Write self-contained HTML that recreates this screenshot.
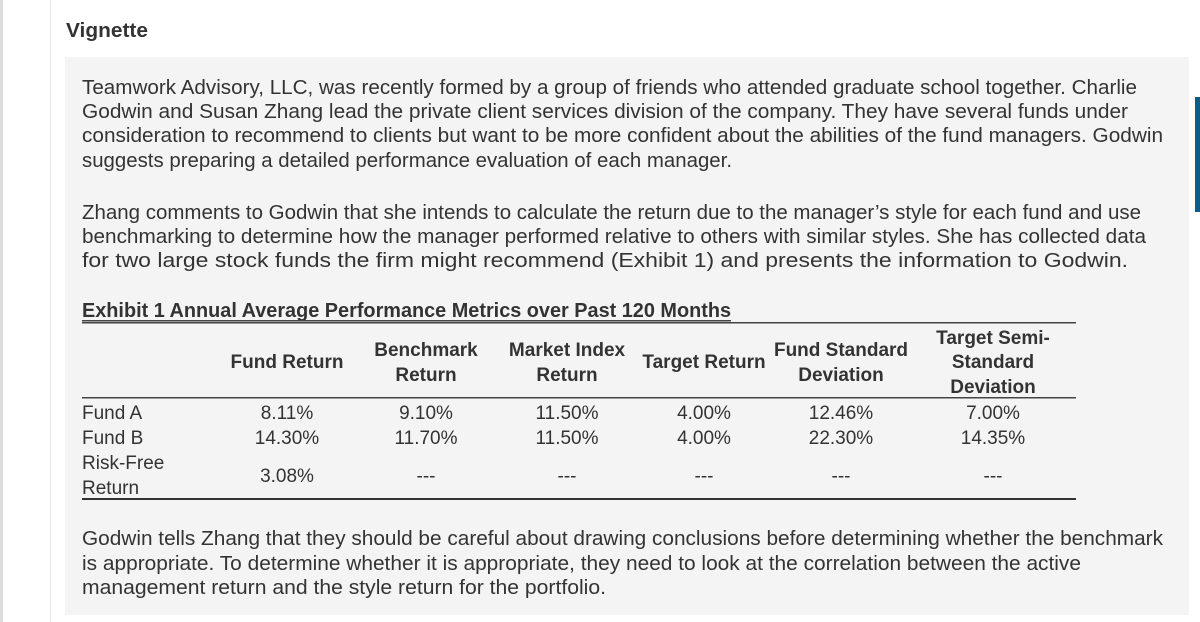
<!DOCTYPE html>
<html><head><meta charset="utf-8"><style>
html,body{margin:0;padding:0;background:#fff;}
svg{display:block;}
text{font-family:"Liberation Sans",sans-serif;fill:#333;}
.b{font-weight:bold;}
</style></head><body>
<svg width="1200" height="622" viewBox="0 0 1200 622">
<rect x="0" y="0" width="3" height="622" fill="#ddd"/>
<rect x="50" y="0" width="1" height="622" fill="#e6e6e6"/>
<rect x="65" y="57" width="1124" height="558" fill="#f4f4f4"/>
<rect x="1195" y="97" width="5" height="115" fill="#0b5c8a"/>
<text x="66" y="37" font-size="20" class="b" textLength="82" lengthAdjust="spacingAndGlyphs">Vignette</text>
<g font-size="20">
<text x="82" y="94" textLength="1055" lengthAdjust="spacingAndGlyphs">Teamwork Advisory, LLC, was recently formed by a group of friends who attended graduate school together. Charlie</text>
<text x="82" y="118" textLength="1046" lengthAdjust="spacingAndGlyphs">Godwin and Susan Zhang lead the private client services division of the company. They have several funds under</text>
<text x="82" y="142" textLength="1081" lengthAdjust="spacingAndGlyphs">consideration to recommend to clients but want to be more confident about the abilities of the fund managers. Godwin</text>
<text x="82" y="167" textLength="650" lengthAdjust="spacingAndGlyphs">suggests preparing a detailed performance evaluation of each manager.</text>
<text x="82" y="219" textLength="1059" lengthAdjust="spacingAndGlyphs">Zhang comments to Godwin that she intends to calculate the return due to the manager’s style for each fund and use</text>
<text x="82" y="243" textLength="1064" lengthAdjust="spacingAndGlyphs">benchmarking to determine how the manager performed relative to others with similar styles. She has collected data</text>
<text x="82" y="267" textLength="1046" lengthAdjust="spacingAndGlyphs">for two large stock funds the firm might recommend (Exhibit 1) and presents the information to Godwin.</text>
<text x="82" y="545" textLength="1081" lengthAdjust="spacingAndGlyphs">Godwin tells Zhang that they should be careful about drawing conclusions before determining whether the benchmark</text>
<text x="82" y="570" textLength="999" lengthAdjust="spacingAndGlyphs">is appropriate. To determine whether it is appropriate, they need to look at the correlation between the active</text>
<text x="82" y="594" textLength="524" lengthAdjust="spacingAndGlyphs">management return and the style return for the portfolio.</text>
</g>
<text x="82" y="317" font-size="20" class="b" textLength="649" lengthAdjust="spacingAndGlyphs">Exhibit 1 Annual Average Performance Metrics over Past 120 Months</text>
<rect x="82" y="320" width="649" height="1.5" fill="#444"/>
<rect x="82" y="322" width="994" height="1.5" fill="#444"/>
<rect x="82" y="397" width="994" height="1.5" fill="#444"/>
<rect x="82" y="498" width="994" height="2" fill="#333"/>
<g font-size="19" class="b" text-anchor="middle">
<text x="287" y="368">Fund Return</text>
<text x="426" y="356">Benchmark</text><text x="426" y="381">Return</text>
<text x="567" y="356">Market Index</text><text x="567" y="381">Return</text>
<text x="704" y="368">Target Return</text>
<text x="841" y="356">Fund Standard</text><text x="841" y="381">Deviation</text>
<text x="993" y="344">Target Semi-</text><text x="993" y="368">Standard</text><text x="993" y="393">Deviation</text>
</g>
<g font-size="19">
<text x="82" y="419">Fund A</text>
<text x="82" y="444">Fund B</text>
<text x="82" y="469">Risk-Free</text>
<text x="82" y="494">Return</text>
</g>
<g font-size="19" text-anchor="middle">
<text x="287" y="419">8.11%</text><text x="426" y="419">9.10%</text><text x="567" y="419">11.50%</text><text x="704" y="419">4.00%</text><text x="841" y="419">12.46%</text><text x="993" y="419">7.00%</text>
<text x="287" y="444">14.30%</text><text x="426" y="444">11.70%</text><text x="567" y="444">11.50%</text><text x="704" y="444">4.00%</text><text x="841" y="444">22.30%</text><text x="993" y="444">14.35%</text>
<text x="287" y="482">3.08%</text>
<text x="426" y="482">---</text><text x="567" y="482">---</text><text x="704" y="482">---</text><text x="841" y="482">---</text><text x="993" y="482">---</text>
</g>
</svg>
</body></html>
